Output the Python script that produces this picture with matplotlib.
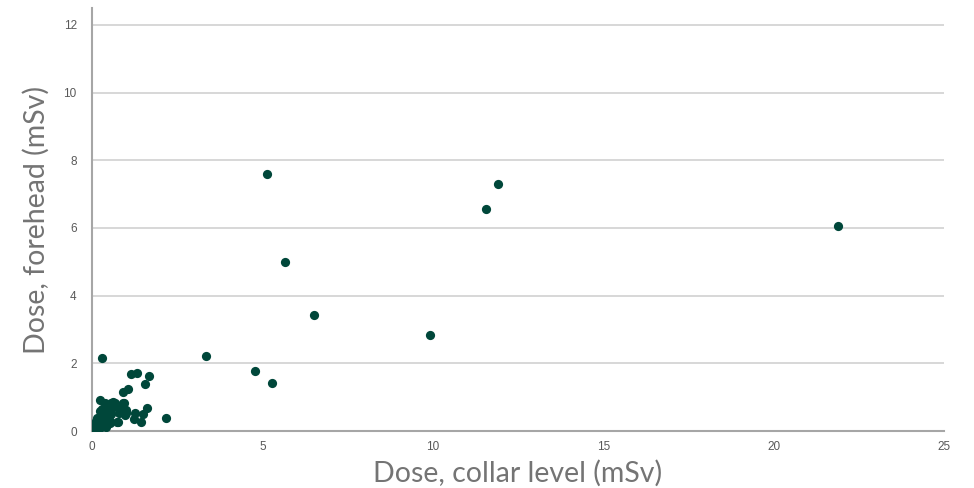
import numpy as np
import matplotlib.pyplot as plt

# Collar-level dose vs forehead dose per worker (mSv)
collar_dose = [
    21.9, 11.9, 11.57, 5.12, 5.65, 6.50, 9.93, 3.35, 4.77, 5.29, 2.16, 0.30,
    1.15, 1.33, 1.67, 1.56, 1.05, 0.92, 0.90, 0.59, 1.61, 1.00, 1.27, 1.49,
    1.22, 1.45, 0.76, 0.94, 0.67, 1.01, 0.96, 0.23, 0.37, 0.57, 0.80, 0.80,
    0.72, 0.61,
    # low-dose cluster
    0.02, 0.04, 0.05, 0.07, 0.08, 0.10, 0.11, 0.12, 0.14, 0.15, 0.17, 0.18,
    0.20, 0.21, 0.22, 0.24, 0.25, 0.27, 0.28, 0.30, 0.31, 0.33, 0.35, 0.36,
    0.38, 0.40, 0.41, 0.43, 0.45, 0.47, 0.48, 0.50, 0.52, 0.55, 0.58, 0.06,
    0.09, 0.13, 0.16, 0.19, 0.26, 0.32, 0.39, 0.44, 0.53, 0.03, 0.23, 0.34,
    0.46, 0.29, 0.42,
]
forehead_dose = [
    6.05, 7.29, 6.55, 7.58, 4.99, 3.42, 2.83, 2.23, 1.78, 1.42, 0.37, 2.17,
    1.69, 1.71, 1.63, 1.40, 1.23, 1.15, 0.83, 0.82, 0.68, 0.52, 0.54, 0.49,
    0.36, 0.28, 0.27, 0.83, 0.82, 0.62, 0.47, 0.91, 0.83, 0.82, 0.70, 0.53,
    0.27, 0.86,
    0.02, 0.05, 0.10, 0.03, 0.15, 0.08, 0.20, 0.12, 0.25, 0.05, 0.30, 0.18,
    0.35, 0.10, 0.42, 0.28, 0.45, 0.22, 0.55, 0.15, 0.50, 0.35, 0.62, 0.25,
    0.58, 0.40, 0.68, 0.30, 0.72, 0.45, 0.60, 0.35, 0.75, 0.50, 0.68, 0.00,
    0.22, 0.30, 0.38, 0.08, 0.12, 0.20, 0.15, 0.20, 0.25, 0.12, 0.60, 0.48,
    0.55, 0.65, 0.12,
]

x_ticks = [0, 5, 10, 15, 20, 25]
y_ticks = [0, 2, 4, 6, 8, 10, 12]

fig = plt.figure(figsize=(9.74, 4.88), dpi=100)
ax = fig.add_axes([0.0945, 0.1168, 0.8747, 0.8668])

ax.scatter(collar_dose, forehead_dose, s=44, color="#00473a", linewidths=0, zorder=3)

ax.set_xlim(0, 25)
ax.set_ylim(0, 12.5)
ax.set_xticks(x_ticks)
ax.set_yticks(y_ticks)
ax.grid(axis="y", color="#d4d4d4", linewidth=1.3)
ax.set_axisbelow(True)

for side in ["top", "right"]:
    ax.spines[side].set_visible(False)
for side in ["left", "bottom"]:
    ax.spines[side].set_color("#a6a6a6")
    ax.spines[side].set_linewidth(1.5)

ax.tick_params(length=0, labelsize=8.5, labelcolor="#595959")
ax.tick_params(axis="y", pad=11)
ax.tick_params(axis="x", pad=7)
for lab in ax.get_xticklabels() + ax.get_yticklabels():
    lab.set_fontfamily("Liberation Sans")

label_font = dict(family="Lato", weight="normal", size=20.5, color="#747474")
ax.set_xlabel("Dose, collar level (mSv)", labelpad=5, **label_font)
ax.set_ylabel("Dose, forehead (mSv)", labelpad=10, **label_font)

fig.savefig("out.png", dpi=100)
